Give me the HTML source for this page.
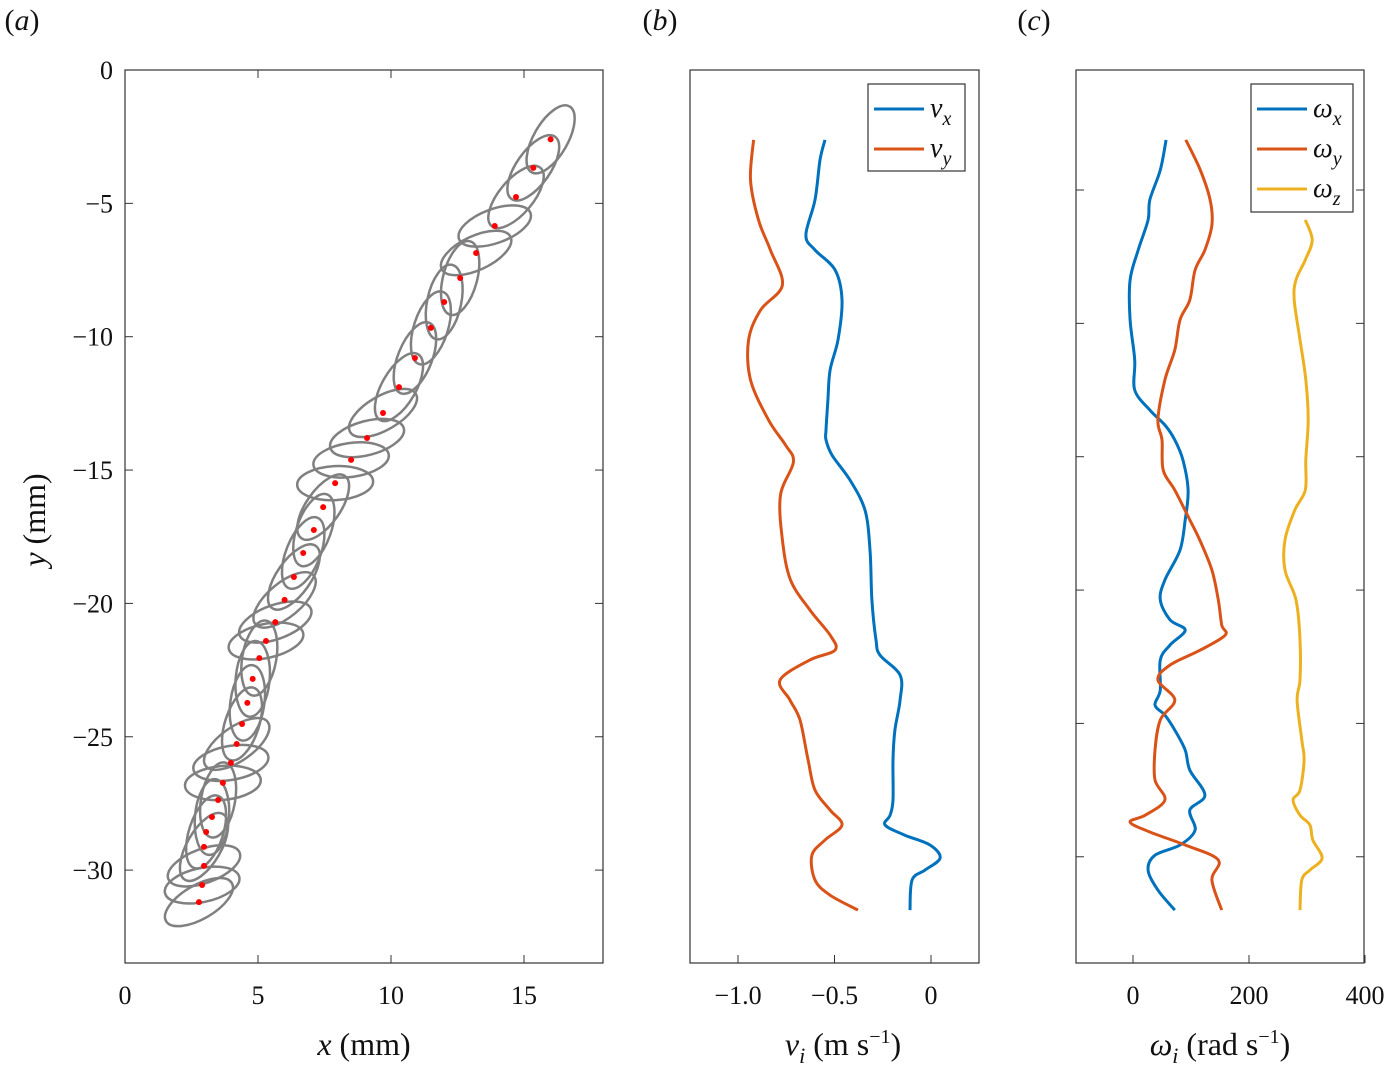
<!DOCTYPE html>
<html><head><meta charset="utf-8"><style>
body{margin:0;background:#fff}
svg{display:block;font-family:"Liberation Serif",serif}
</style></head><body>
<svg id="fig" width="1391" height="1076" viewBox="0 0 1391 1076" xmlns="http://www.w3.org/2000/svg">
<g id="pa"></g>
<g id="pb"></g>
<g id="pc"></g>
</svg>
<script>
// ---- data ----
const dotX=[16.0,15.35,14.7,13.9,13.2,12.6,12.0,11.5,10.9,10.3,9.7,9.1,8.5,7.9,7.45,7.1,6.7,6.35,6.0,5.65,5.3,5.05,4.8,4.6,4.4,4.2,3.98,3.68,3.5,3.27,3.05,2.97,2.97,2.9,2.78];
const dotY=[-2.6,-3.67,-4.76,-5.85,-6.86,-7.8,-8.7,-9.67,-10.8,-11.89,-12.86,-13.8,-14.62,-15.49,-16.39,-17.25,-18.11,-19.01,-19.87,-20.7,-21.41,-22.05,-22.83,-23.73,-24.52,-25.27,-25.98,-26.73,-27.37,-28.01,-28.57,-29.13,-29.84,-30.56,-31.2];
const ellAng=[-60,-55,-50,-20,-25,-75,-78,-72,-68,-60,-30,-15,-8,-3,-55,-70,-68,-55,-40,-20,-12,-80,-85,-82,-72,-35,-10,-5,-80,-85,-72,-60,-20,-12,-30];
const vY=[-2.62,-3.37,-4.87,-6.19,-6.75,-7.5,-8.62,-10.12,-11.25,-12.37,-13.5,-13.87,-14.44,-15.37,-16.5,-18.0,-19.87,-21.37,-21.94,-22.69,-23.62,-24.75,-25.87,-27.37,-27.94,-28.31,-28.69,-29.06,-29.55,-30.0,-30.37,-31.5];
const vx=[-0.549,-0.575,-0.601,-0.648,-0.601,-0.497,-0.461,-0.482,-0.523,-0.534,-0.544,-0.544,-0.513,-0.420,-0.342,-0.316,-0.306,-0.285,-0.264,-0.160,-0.160,-0.187,-0.197,-0.197,-0.212,-0.238,-0.135,-0.005,0.047,-0.031,-0.098,-0.109];
const vyY=[-2.62,-4.12,-5.62,-6.75,-8.06,-9.0,-10.12,-11.62,-13.12,-14.06,-14.7,-15.94,-17.62,-19.12,-20.25,-21.19,-21.75,-22.12,-22.87,-23.62,-24.37,-25.87,-27.0,-27.75,-28.31,-28.87,-29.44,-30.37,-30.94,-31.5];
const vy=[-0.919,-0.935,-0.894,-0.832,-0.770,-0.883,-0.945,-0.935,-0.842,-0.754,-0.713,-0.780,-0.770,-0.728,-0.627,-0.523,-0.497,-0.627,-0.782,-0.731,-0.679,-0.637,-0.601,-0.523,-0.461,-0.549,-0.617,-0.601,-0.523,-0.378];
const wxY=[-2.62,-3.75,-4.87,-5.62,-6.75,-7.87,-9.37,-10.87,-12.0,-12.75,-13.31,-13.87,-14.62,-15.75,-16.87,-18.0,-19.12,-19.87,-20.62,-21.0,-21.56,-22.12,-23.25,-23.81,-24.19,-24.75,-25.5,-26.25,-27.19,-27.75,-28.5,-29.06,-29.44,-30.0,-30.75,-31.5];
const wx=[57,47,29,26,9,-5,-5,3,3,29,55,72,86,95,90,81,55,47,64,90,64,47,47,38,55,72,90,98,124,98,107,81,38,26,43,72];
const wyY=[-2.62,-3.75,-4.87,-5.81,-6.75,-7.5,-8.62,-9.37,-10.5,-11.62,-13.12,-13.87,-15.0,-15.75,-16.87,-17.62,-18.75,-19.87,-20.81,-21.19,-21.75,-22.31,-22.87,-23.62,-24.37,-25.5,-26.62,-27.37,-27.94,-28.2,-28.57,-29.06,-29.62,-30.37,-31.5];
const wy=[91,116,133,136,124,107,98,81,72,55,43,50,52,72,98,115,136,147,153,159,116,64,43,72,47,38,38,55,21,-5,29,90,147,136,153];
const wzY=[-5.62,-6.37,-7.12,-7.87,-8.62,-10.12,-11.62,-13.12,-14.62,-15.75,-16.5,-17.62,-18.75,-19.87,-21.37,-22.87,-23.62,-25.12,-25.87,-27.0,-27.37,-27.94,-28.31,-28.87,-29.55,-30.0,-30.37,-31.5];
const wz=[297,309,297,281,278,288,298,302,298,297,279,262,262,281,288,288,283,291,295,288,276,288,305,310,326,305,291,288];
const aXt=[0,5,10,15],aYt=[0,-5,-10,-15,-20,-25,-30];
const bXt=[-1.0,-0.5,0],bXl=["\u22121.0","\u22120.5","0"];
const cXt=[0,200,400];
const cYt=[-4.5,-9.5,-14.5,-19.5,-24.5,-29.5];
// ---- helpers ----
const NS="http://www.w3.org/2000/svg";
function mk(p,t,a){const e=document.createElementNS(NS,t);for(const k in a)e.setAttribute(k,a[k]);p.appendChild(e);return e;}
const Y=v=>70-v*26.67;
const aX=v=>125+v*26.6;
const bX=v=>931+v*193;
const cX=v=>1133+v*0.58;
function box(g,x0,x1,name){const r=mk(g,'rect',{x:x0,y:70,width:x1-x0,height:893,fill:'none',stroke:'#333','stroke-width':1.2});

}
function txt(g,x,y,s,sz,anchor,name,style){const t=mk(g,'text',{x:x,y:y,'font-size':sz,'text-anchor':anchor||'middle',fill:'#111'});if(style)t.setAttribute('font-style',style);t.textContent=s;

return t;}
function line(g,xs,ys,fx,col,name){const P=xs.map((x,i)=>[fx(x),Y(ys[i])]);
let d='M'+P[0][0].toFixed(1)+','+P[0][1].toFixed(1);
for(let i=0;i<P.length-1;i++){const p0=P[Math.max(0,i-1)],p1=P[i],p2=P[i+1],p3=P[Math.min(P.length-1,i+2)];
const c1=[p1[0]+(p2[0]-p0[0])/6,p1[1]+(p2[1]-p0[1])/6],c2=[p2[0]-(p3[0]-p1[0])/6,p2[1]-(p3[1]-p1[1])/6];
d+='C'+c1.map(v=>v.toFixed(1)).join(',')+' '+c2.map(v=>v.toFixed(1)).join(',')+' '+p2.map(v=>v.toFixed(1)).join(',');}
const p=mk(g,'path',{d:d,fill:'none',stroke:col,'stroke-width':3,'stroke-linejoin':'round'});

}
function leg(g,x,y,w,h,items){const r=mk(g,'rect',{x:x,y:y,width:w,height:h,fill:'#fff',stroke:'#333','stroke-width':1.2});


items.forEach((it,i)=>{const yy=y+25+i*40;mk(g,'line',{x1:x+6,x2:x+56,y1:yy,y2:yy,stroke:it[0],'stroke-width':3});
const t=mk(g,'text',{x:x+62,y:yy+8,'font-size':28,'font-style':'italic',fill:'#111'});t.innerHTML=it[1]+'<tspan font-size="20" dy="8">'+it[2]+'</tspan>';

});}
// ---- panel a ----
const pa=document.getElementById('pa');
for(let i=0;i<dotX.length;i++){const cx=aX(dotX[i]),cy=Y(dotY[i]);
const e=mk(pa,'ellipse',{cx:cx,cy:cy,rx:38,ry:17,fill:'none',stroke:'#808080','stroke-width':2.5,transform:`rotate(${ellAng[i]} ${cx} ${cy})`});

}
for(let i=0;i<dotX.length;i++){const c=mk(pa,'circle',{cx:aX(dotX[i]),cy:Y(dotY[i]),r:3,fill:'#ff0000'});

}
box(pa,125,603,'axes-a');
aXt.forEach(v=>{mk(pa,'line',{x1:aX(v),x2:aX(v),y1:963,y2:955,stroke:'#333'});mk(pa,'line',{x1:aX(v),x2:aX(v),y1:70,y2:78,stroke:'#333'});txt(pa,aX(v),1004,String(v),26,'middle','x-tick-label');});
aYt.forEach(v=>{mk(pa,'line',{x1:125,x2:133,y1:Y(v),y2:Y(v),stroke:'#333'});mk(pa,'line',{x1:603,x2:595,y1:Y(v),y2:Y(v),stroke:'#333'});txt(pa,113,Y(v)+9,v<0?'\u2212'+(-v):'0',26,'end','y-tick-label');});
txt(pa,22,30,'(a)',30,'middle','panel-label-a').innerHTML='(<tspan font-style="italic">a</tspan>)';
txt(pa,364,1055,'',32,'middle','x-axis-title').innerHTML='<tspan font-style="italic">x</tspan> (mm)';
const yt=txt(pa,0,0,'',32,'middle','y-axis-title');yt.innerHTML='<tspan font-style="italic">y</tspan> (mm)';yt.setAttribute('transform','translate(45,520) rotate(-90)');
// ---- panel b ----
const pb=document.getElementById('pb');
box(pb,690,979,'axes-b');
line(pb,vx,vY,bX,'#0072BD','series-vx');
line(pb,vy,vyY,bX,'#D95319','series-vy');
bXt.forEach((v,i)=>{mk(pb,'line',{x1:bX(v),x2:bX(v),y1:963,y2:955,stroke:'#333'});txt(pb,bX(v),1004,bXl[i],26,'middle','x-tick-label');});
txt(pb,660,30,'',30,'middle','panel-label-b').innerHTML='(<tspan font-style="italic">b</tspan>)';
txt(pb,843,1055,'',32,'middle','x-axis-title').innerHTML='<tspan font-style="italic">v<tspan font-size="22" dy="8">i</tspan></tspan><tspan dy="-8"> (m s</tspan><tspan font-size="20" dy="-12">\u22121</tspan><tspan dy="12">)</tspan>';
leg(pb,868,84,97,87,[['#0072BD','v','x'],['#D95319','v','y']]);
// ---- panel c ----
const pc=document.getElementById('pc');
box(pc,1076,1364,'axes-c');
line(pc,wx,wxY,cX,'#0072BD','series-wx');
line(pc,wy,wyY,cX,'#D95319','series-wy');
line(pc,wz,wzY,cX,'#EDB120','series-wz');
cXt.forEach(v=>{mk(pc,'line',{x1:cX(v),x2:cX(v),y1:963,y2:955,stroke:'#333'});txt(pc,cX(v),1004,String(v),26,'middle','x-tick-label');});
cYt.forEach(v=>{mk(pc,'line',{x1:1076,x2:1084,y1:Y(v),y2:Y(v),stroke:'#333'});mk(pc,'line',{x1:1364,x2:1356,y1:Y(v),y2:Y(v),stroke:'#333'});});
txt(pc,1034,30,'',30,'middle','panel-label-c').innerHTML='(<tspan font-style="italic">c</tspan>)';
txt(pc,1220,1055,'',32,'middle','x-axis-title').innerHTML='<tspan font-style="italic">\u03c9<tspan font-size="22" dy="8">i</tspan></tspan><tspan dy="-8"> (rad s</tspan><tspan font-size="20" dy="-12">\u22121</tspan><tspan dy="12">)</tspan>';
leg(pc,1251,84,102,128,[['#0072BD','\u03c9','x'],['#D95319','\u03c9','y'],['#EDB120','\u03c9','z']]);
</script>
</body></html>
